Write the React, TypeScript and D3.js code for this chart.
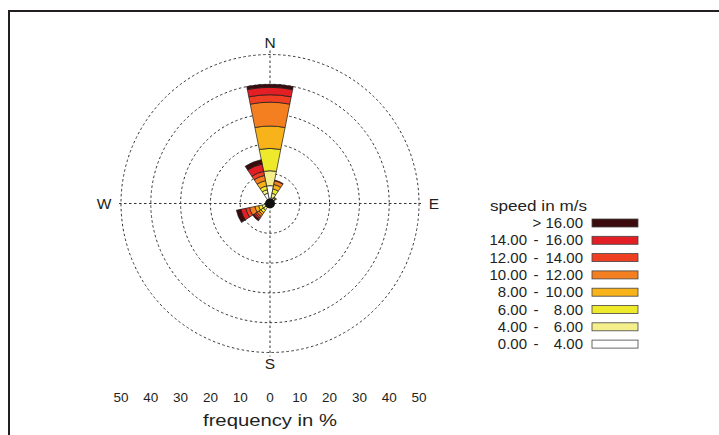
import React from "react";
import * as d3 from "d3";

const directions = ["N","NNE","NE","ENE","E","ESE","SE","SSE","S","SSW","SW","WSW","W","WNW","NW","NNW"];
const speedClasses = ["0.00 - 4.00","4.00 - 6.00","6.00 - 8.00","8.00 - 10.00","10.00 - 12.00","12.00 - 14.00","14.00 - 16.00","> 16.00"];
const classColors = ["#ffffff","#f4ef8a","#efe92c","#f8b31a","#f37f21","#ef3f23","#e31e25","#3b0b0d"];
// frequency (%) per direction for each speed class
const s0_4   = [6.0, 2.0, 1.0, 0.5, 0.3, 0.3, 0.3, 0.3, 0.4, 0.6, 1.5, 1.5, 0.5, 0.3, 0.4, 3.5];
const s4_6   = [5.0, 1.5, 0.6, 0.2, 0.1, 0.1, 0.1, 0.1, 0.2, 0.3, 1.2, 1.2, 0.3, 0.2, 0.2, 1.2];
const s6_8   = [7.5, 1.5, 0.5, 0.1, 0.0, 0.0, 0.0, 0.0, 0.1, 0.2, 1.0, 1.2, 0.2, 0.1, 0.1, 1.3];
const s8_10  = [7.5, 1.5, 0.3, 0.0, 0.0, 0.0, 0.0, 0.0, 0.0, 0.1, 0.8, 1.3, 0.1, 0.0, 0.0, 1.8];
const s10_12 = [8.0, 1.3, 0.2, 0.0, 0.0, 0.0, 0.0, 0.0, 0.0, 0.0, 0.8, 1.8, 0.0, 0.0, 0.0, 1.8];
const s12_14 = [2.5, 0.2, 0.0, 0.0, 0.0, 0.0, 0.0, 0.0, 0.0, 0.0, 0.6, 1.3, 0.0, 0.0, 0.0, 1.4];
const s14_16 = [2.5, 0.0, 0.0, 0.0, 0.0, 0.0, 0.0, 0.0, 0.0, 0.0, 0.6, 1.7, 0.0, 0.0, 0.0, 2.5];
const s16    = [1.0, 0.0, 0.0, 0.0, 0.0, 0.0, 0.0, 0.0, 0.0, 0.0, 0.5, 1.5, 0.0, 0.0, 0.0, 1.5];
const seriesValues = [s0_4, s4_6, s6_8, s8_10, s10_12, s12_14, s14_16, s16];
const ringTicks = [10, 20, 30, 40, 50];
const axisTickLabels = [-50, -40, -30, -20, -10, 0, 10, 20, 30, 40, 50];
const compass = [
  { label: "N", angle: 0, off: 161 },
  { label: "E", angle: 90, off: 164 },
  { label: "S", angle: 180, off: 160 },
  { label: "W", angle: 270, off: 166 },
];

const W = 719, H = 435;
const cx = 270, cy = 203.5;
const font = "'Liberation Sans', Arial, Helvetica, sans-serif";

export default function App() {
  const r = d3.scaleLinear().domain([0, 50]).range([0, 149]);
  const angle = d3.scaleBand().domain(directions).range([0, 2 * Math.PI]);
  const step = (2 * Math.PI) / directions.length;
  const arc = d3.arc<any>();

  const segments: any[] = [];
  directions.forEach((dir, i) => {
    let cum = 0;
    seriesValues.forEach((vals, k) => {
      const v = vals[i];
      if (v <= 0) return;
      const a0 = (angle(dir) as number) - step / 2;
      segments.push({
        key: dir + k,
        d: arc({ innerRadius: r(cum), outerRadius: r(cum + v), startAngle: a0, endAngle: a0 + step }),
        fill: classColors[k],
      });
      cum += v;
    });
  });

  const legendX = 592, legendY0 = 223, rowH = 17.3;
  const grid = "#333";

  return (
    <svg width={W} height={H} style={{ position: "absolute", left: 0, top: 0, background: "#fff" }} fontFamily={font}>
      <path d={`M9,${H} V11 H${W}`} fill="none" stroke="#231f20" strokeWidth={2} />
      <g transform={`translate(${cx},${cy})`}>
        {ringTicks.map((t) => (
          <circle key={t} r={r(t)} fill="none" stroke={grid} strokeWidth={1} strokeDasharray="2.5,2.5" />
        ))}
        <line x1={-r(50) - 2} x2={r(50) + 2} y1={0} y2={0} stroke={grid} strokeWidth={1} strokeDasharray="2.5,2.5" />
        <line y1={-r(50) - 4} y2={r(50) + 4} x1={0} x2={0} stroke={grid} strokeWidth={1} strokeDasharray="2.5,2.5" />
        {segments.map((s) => (
          <path key={s.key} d={s.d} fill={s.fill} stroke="#1a1a1a" strokeWidth={0.7} />
        ))}
        <circle r={5} fill="#111" />
        {compass.map((c) => {
          const a = (c.angle * Math.PI) / 180;
          return (
            <text key={c.label} x={Math.sin(a) * c.off} y={-Math.cos(a) * c.off} dy="0.36em" textAnchor="middle" fontSize={15.5} fill="#231f20">
              {c.label}
            </text>
          );
        })}
      </g>
      {axisTickLabels.map((t) => (
        <text key={t} x={cx + (t < 0 ? -r(-t) : r(t))} y={402} textAnchor="middle" fontSize={13.5} fill="#231f20">
          {Math.abs(t)}
        </text>
      ))}
      <text x={cx} y={426} textAnchor="middle" fontSize={16} textLength={134} lengthAdjust="spacingAndGlyphs" fill="#231f20">
        frequency in %
      </text>
      <text x={490} y={211} fontSize={14} textLength={97} lengthAdjust="spacingAndGlyphs" fill="#231f20">
        speed in m/s
      </text>
      {speedClasses.slice().reverse().map((lab, j) => {
        const k = speedClasses.length - 1 - j;
        const y = legendY0 + j * rowH;
        const parts = lab.split(" - ");
        return (
          <g key={lab}>
            {parts.length === 1 ? (
              <text x={583} y={y + 5} textAnchor="end" fontSize={15} fill="#231f20">{lab}</text>
            ) : (
              <>
                <text x={527} y={y + 5} textAnchor="end" fontSize={15} fill="#231f20">{parts[0]}</text>
                <text x={536} y={y + 5} textAnchor="middle" fontSize={15} fill="#231f20">-</text>
                <text x={583} y={y + 5} textAnchor="end" fontSize={15} fill="#231f20">{parts[1]}</text>
              </>
            )}
            <rect x={legendX} y={y - 4} width={46} height={8} fill={classColors[k]} stroke="#444" strokeWidth={0.8} />
          </g>
        );
      })}
    </svg>
  );
}
